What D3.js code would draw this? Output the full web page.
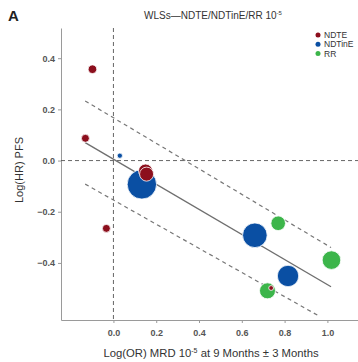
<!DOCTYPE html>
<html>
<head>
<meta charset="utf-8">
<script src="https://cdn.jsdelivr.net/npm/d3@7"></script>
<style>
body { margin: 0; background: #fff; }
svg { display: block; font-family: "Liberation Sans", Arial, sans-serif; }
</style>
</head>
<body>
<div id="chart"></div>
<script>
var width = 358;
var height = 362;

// data
var groups = ['NDTE', 'NDTinE', 'RR'];
var groupColors = ['#8c0f1d', '#0a4fa3', '#3cb54a'];
var xTicks = [0.0, 0.2, 0.4, 0.6, 0.8, 1.0];
var yTicks = [0.4, 0.2, 0.0, -0.2, -0.4];

// [x, y, radius px]
var ndtePts = [[-0.098, 0.357, 4.3], [-0.131, 0.087, 4], [-0.033, -0.265, 4], [0.150, -0.041, 7], [0.155, -0.053, 7], [0.737, -0.498, 2.4]];
var ndtinePts = [[0.030, 0.019, 2.6], [0.133, -0.093, 14.7], [0.661, -0.292, 12.3], [0.816, -0.451, 10.7]];
var rrPts = [[0.770, -0.245, 7.3], [1.019, -0.389, 9.3], [0.720, -0.509, 8]];

var fitLine = [[-0.132, 0.070], [1.017, -0.493]];
var upperBand = [[-0.132, 0.233], [1.017, -0.340]];
var lowerBand = [[-0.132, -0.092], [0.966, -0.610]];

var svg = d3.select('#chart').append('svg').attr('width', width).attr('height', height);

var x = d3.scaleLinear().domain([-0.245, 1.143]).range([61, 358]);
var y = d3.scaleLinear().domain([-0.623, 0.518]).range([320, 28]);

// panel letter + title
svg.append('text').attr('x', 8).attr('y', 21).text('A')
    .style('font-size', '15px').style('font-weight', 'bold').attr('fill', '#222');

var title = svg.append('text').attr('x', 213).attr('y', 19).attr('text-anchor', 'middle')
    .style('font-size', '10px').attr('fill', '#333');
title.append('tspan').text('WLSs\u2014NDTE/NDTinE/RR 10');
title.append('tspan').text('-5').attr('dy', -4).style('font-size', '6px');

// axes
var xAxis = svg.append('g').attr('transform', 'translate(0,320)')
    .call(d3.axisBottom(x).tickValues(xTicks).tickFormat(d3.format('.1f')).tickSize(3).tickSizeOuter(0));
var yAxis = svg.append('g').attr('transform', 'translate(61,0)')
    .call(d3.axisLeft(y).tickValues(yTicks).tickFormat(d3.format('.1f')).tickSize(3).tickSizeOuter(0));

[xAxis, yAxis].forEach(function(ax) {
    ax.select('.domain').attr('stroke', '#9a9a9a');
    ax.selectAll('.tick line').attr('stroke', '#9a9a9a');
    ax.selectAll('.tick text').attr('fill', '#555')
        .style('font-family', '"Liberation Sans Narrow", "Liberation Sans", Arial, sans-serif')
        .style('font-weight', 'bold').style('font-size', '9px');
});
xAxis.selectAll('.tick text').attr('dy', '1.1em');

// axis titles
var xt = svg.append('text').attr('x', 211).attr('y', 357).attr('text-anchor', 'middle')
    .style('font-size', '11.3px').attr('fill', '#333');
xt.append('tspan').text('Log(OR) MRD 10');
xt.append('tspan').text('-5').attr('dy', -4).style('font-size', '7px');
xt.append('tspan').text(' at 9 Months \u00b1 3 Months').attr('dy', 4);

svg.append('text').attr('transform', 'translate(23,170) rotate(-90)').attr('text-anchor', 'middle')
    .style('font-size', '11px').attr('fill', '#333').text('Log(HR) PFS');

// reference lines
svg.append('line').attr('x1', x(0)).attr('x2', x(0)).attr('y1', 28).attr('y2', 320)
    .attr('stroke', '#555').attr('stroke-width', 0.9).attr('stroke-dasharray', '4,3');
svg.append('line').attr('x1', 61).attr('x2', width).attr('y1', y(0)).attr('y2', y(0))
    .attr('stroke', '#555').attr('stroke-width', 0.9).attr('stroke-dasharray', '4,3');

var line = d3.line().x(d => x(d[0])).y(d => y(d[1]));
svg.append('path').attr('d', line(upperBand)).attr('fill', 'none')
    .attr('stroke', '#777').attr('stroke-width', 1.2).attr('stroke-dasharray', '4,3.5');
svg.append('path').attr('d', line(lowerBand)).attr('fill', 'none')
    .attr('stroke', '#777').attr('stroke-width', 1.2).attr('stroke-dasharray', '4,3.5');
svg.append('path').attr('d', line(fitLine)).attr('fill', 'none')
    .attr('stroke', '#6f6f6f').attr('stroke-width', 1.4);

// points
function drawPts(pts, color) {
    pts.forEach(function(p) {
        svg.append('circle').attr('cx', x(p[0])).attr('cy', y(p[1])).attr('r', p[2])
            .attr('fill', color).attr('stroke', '#fff').attr('stroke-width', 0.8);
    });
}
drawPts(rrPts, groupColors[2]);
drawPts(ndtinePts, groupColors[1]);
drawPts(ndtePts, groupColors[0]);

// legend
var legend = svg.append('g');
groups.forEach(function(g, i) {
    legend.append('circle').attr('cx', 318).attr('cy', 35 + i * 9.3).attr('r', 2.5).attr('fill', groupColors[i]);
    legend.append('text').attr('x', 324).attr('y', 38 + i * 9.3).text(g)
        .style('font-size', '8.5px').attr('fill', '#333');
});
</script>
</body>
</html>
